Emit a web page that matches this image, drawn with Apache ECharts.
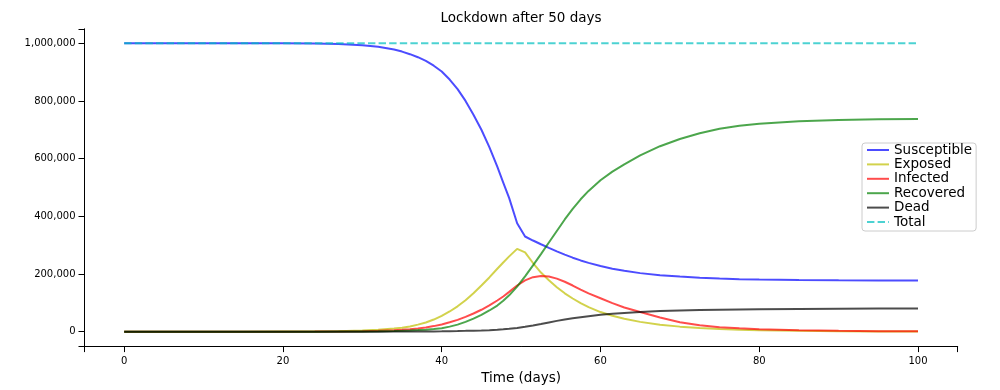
<!DOCTYPE html>
<html>
<head>
<meta charset="utf-8">
<script src="https://cdn.jsdelivr.net/npm/echarts@6/dist/echarts.min.js"></script>
<style>
html,body{margin:0;padding:0;background:#fff;}
#chart{width:1000px;height:390px;}
</style>
</head>
<body>
<div id="chart"></div>
<script>
// time points (days)
const days = [0, 5, 10, 15, 20, 24, 27,
  30, 32, 34, 35, 36, 37, 38, 39, 40,
  41, 42, 43, 44, 45, 46, 47,
  47.75, 48.5, 49.5,
  50.5, 51.5, 52.5, 53.5, 54.5, 55.5, 56.5, 57.5, 58.5,
  60, 61.5, 63, 65, 67.5, 70,
  72.5, 75, 77.5, 80, 85, 90, 95, 100];

const susceptible = [999999, 999990, 999950, 999850, 999500, 998700, 997000,
  993000, 987500, 978000, 971000, 962000, 951500, 939000, 922000, 902000,
  874000, 841000, 800000, 752000, 700000, 640000, 572000,
  517000, 463000, 376000,
  330000, 316000, 303000, 290500, 278500, 267000, 256500, 247000, 238500,
  227500, 218500, 211000, 203000, 196000, 191000,
  187000, 184000, 182000, 180500, 178800, 178000, 177500, 177000];

const exposed = [1, 5, 25, 90, 300, 800, 1800,
  4000, 6800, 11000, 14000, 18000, 24500, 32000, 42000, 55000,
  70000, 88000, 109000, 133000, 160000, 188000, 218000,
  240000, 261000, 287000,
  275000, 238000, 205000, 178000, 154000, 133000, 115000, 99000, 85000,
  68000, 55000, 44500, 34000, 24000, 17500,
  12800, 9500, 7000, 5200, 2800, 1500, 800, 450];

const infected = [0, 1, 5, 25, 120, 350, 750,
  1700, 3000, 5000, 6500, 8500, 11300, 14500, 19300, 25000,
  32500, 41000, 51500, 63000, 76000, 91000, 108000,
  122000, 138000, 160000,
  178000, 189000, 193000, 191000, 184000, 173000, 160000, 146000, 133000,
  116000, 99000, 84000, 68000, 49000, 33000,
  22000, 15500, 11500, 8800, 5000, 3000, 1800, 1100];

const recovered = [0, 0, 2, 10, 60, 180, 400,
  650, 1200, 2200, 3000, 4000, 5400, 7000, 9300, 12000,
  17500, 24500, 34000, 45500, 58500, 73500, 90500,
  107000, 126000, 156000,
  192000, 230000, 269000, 309000, 349000, 389000, 426000, 459000, 488000,
  525000, 555000, 580000, 611000, 643000, 668000,
  688000, 703500, 714000, 721000, 729500, 734000, 736300, 737500];

const dead = [0, 0, 0, 2, 5, 15, 40,
  100, 170, 300, 400, 500, 640, 800, 1030, 1300,
  1700, 2200, 2800, 3500, 4300, 5300, 6500,
  8000, 9800, 13000,
  17000, 21500, 26500, 32000, 37500, 42500, 46500, 50000, 53500,
  58500, 62000, 65000, 68500, 71500, 73500,
  75000, 76200, 77200, 78000, 79000, 79700, 80200, 80500];

const totalDays = [0, 100];
const totalValues = [1000000, 1000000];

const xTicks = [0, 20, 40, 60, 80, 100];
const yTicks = [0, 200000, 400000, 600000, 800000, 1000000];

const seriesNames = ['Susceptible', 'Exposed', 'Infected', 'Recovered', 'Dead', 'Total'];
const seriesColors = ['#0000ff', '#bfbf00', '#ff0000', '#008000', '#000000', '#00bfbf'];

const pair = (xs, ys) => xs.map((x, i) => [x, ys[i]]);
const allData = [
  pair(days, susceptible),
  pair(days, exposed),
  pair(days, infected),
  pair(days, recovered),
  pair(days, dead),
  pair(totalDays, totalValues)
];

const font = 'DejaVu Sans';
const chart = echarts.init(document.getElementById('chart'), null, {renderer: 'canvas'});

const series = seriesNames.map((name, i) => ({
  name: name,
  type: 'line',
  data: allData[i],
  symbol: 'none',
  showSymbol: false,
  smooth: false,
  clip: true,
  itemStyle: {color: seriesColors[i], opacity: 0.7},
  lineStyle: {
    color: seriesColors[i],
    width: 2,
    opacity: 0.7,
    type: name === 'Total' ? [7.4, 3.2] : 'solid'
  },
  emphasis: {disabled: true},
  z: 2 + i
}));

chart.setOption({
  animation: false,
  backgroundColor: '#ffffff',
  title: {
    text: 'Lockdown after 50 days',
    left: 521,
    top: 11,
    padding: 0,
    textAlign: 'center',
    textStyle: {fontFamily: font, fontSize: 13.5, fontWeight: 'normal', color: '#000'}
  },
  grid: {left: 84.5, right: 42.3, top: 28.8, bottom: 42.8, containLabel: false},
  legend: {
    orient: 'vertical',
    left: 862,
    top: 143,
    padding: [0, 4, 2, 4],
    itemGap: 0.4,
    itemWidth: 22,
    itemHeight: 14,
    borderColor: '#cccccc',
    borderWidth: 1,
    borderRadius: 3,
    backgroundColor: 'rgba(255,255,255,0.8)',
    itemStyle: {opacity: 0},
    textStyle: {fontFamily: font, fontSize: 13.5, color: '#000', lineHeight: 14},
    data: seriesNames
  },
  xAxis: {
    type: 'value',
    min: -5,
    max: 105,
    name: 'Time (days)',
    nameLocation: 'middle',
    nameGap: 14,
    nameTextStyle: {fontFamily: font, fontSize: 13.5, color: '#000'},
    splitLine: {show: false},
    axisLine: {show: true, onZero: false, lineStyle: {color: '#000', width: 1}},
    axisTick: {show: true, length: 6, customValues: [-5].concat(xTicks, [105]), lineStyle: {color: '#000'}},
    axisLabel: {customValues: xTicks, fontFamily: font, fontSize: 10, color: '#000', margin: 10, showMinLabel: true, showMaxLabel: true}
  },
  yAxis: {
    type: 'value',
    min: -50000,
    max: 1050000,
    splitLine: {show: false},
    axisLine: {show: true, onZero: false, lineStyle: {color: '#000', width: 1}},
    axisTick: {show: true, length: 6, customValues: [-50000].concat(yTicks, [1050000]), lineStyle: {color: '#000'}},
    axisLabel: {
      customValues: yTicks,
      fontFamily: font, fontSize: 10, color: '#000', margin: 9,
      formatter: v => v.toLocaleString('en-US')
    }
  },
  series: series
});
</script>
</body>
</html>
